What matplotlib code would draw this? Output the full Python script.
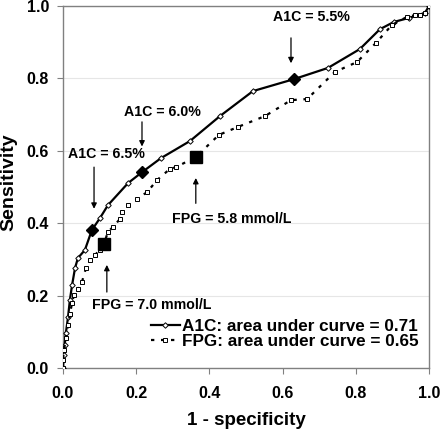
import matplotlib
matplotlib.use("Agg")
import matplotlib.pyplot as plt
from matplotlib.lines import Line2D

plt.rcParams['font.family'] = ['Liberation Sans', 'DejaVu Sans']
plt.rcParams['font.weight'] = 'bold'

# A1C ROC curve
a1c_fpr = [0.0, 0.003, 0.005, 0.008, 0.014, 0.019, 0.025, 0.033, 0.041, 0.060, 0.079,
           0.101, 0.123, 0.178, 0.216, 0.268, 0.347, 0.429, 0.519, 0.631, 0.724,
           0.811, 0.866, 0.904, 0.945, 0.989, 1.0]
a1c_tpr = [0.0, 0.036, 0.064, 0.097, 0.141, 0.188, 0.229, 0.276, 0.304, 0.326, 0.381,
           0.414, 0.450, 0.511, 0.541, 0.580, 0.627, 0.696, 0.765, 0.798, 0.829,
           0.881, 0.936, 0.956, 0.967, 0.981, 1.0]

# FPG ROC curve
fpg_fpr = [0.0, 0.0, 0.003, 0.008, 0.014, 0.019, 0.025, 0.030, 0.041, 0.052, 0.063,
           0.074, 0.087, 0.101, 0.112, 0.123, 0.137, 0.156, 0.161, 0.178, 0.202,
           0.230, 0.257, 0.292, 0.309, 0.363, 0.426, 0.478, 0.552, 0.623, 0.667,
           0.743, 0.803, 0.855, 0.899, 0.940, 0.962, 0.975, 0.989, 1.0]
fpg_tpr = [0.0, 0.022, 0.050, 0.083, 0.119, 0.149, 0.180, 0.202, 0.218, 0.238, 0.276,
           0.298, 0.312, 0.326, 0.343, 0.376, 0.390, 0.412, 0.431, 0.450, 0.467,
           0.486, 0.519, 0.550, 0.555, 0.583, 0.644, 0.666, 0.696, 0.740, 0.743,
           0.818, 0.845, 0.898, 0.948, 0.970, 0.975, 0.975, 0.981, 1.0]

# Highlighted cut-offs
a1c_cut_labels = ["A1C = 6.5%", "A1C = 6.0%", "A1C = 5.5%"]
a1c_cut_fpr = [0.079, 0.216, 0.631]
a1c_cut_tpr = [0.381, 0.541, 0.798]

fpg_cut_labels = ["FPG = 7.0 mmol/L", "FPG = 5.8 mmol/L"]
fpg_cut_fpr = [0.112, 0.363]
fpg_cut_tpr = [0.343, 0.583]

legend_labels = ["A1C: area under curve = 0.71", "FPG: area under curve = 0.65"]
ticks = [0.0, 0.2, 0.4, 0.6, 0.8, 1.0]
tick_labels = ["0.0", "0.2", "0.4", "0.6", "0.8", "1.0"]

fig = plt.figure(figsize=(4.4, 4.3), dpi=100)
ax = fig.add_axes([0.143, 0.144, 0.832, 0.842])

ax.plot(a1c_fpr, a1c_tpr, color='black', lw=1.6, marker='D', ms=2.8,
        mfc='white', mec='black', mew=0.7, zorder=3)
ax.plot(fpg_fpr, fpg_tpr, color='black', lw=1.6, ls=(0, (1.5, 3)), marker='s', ms=3.5,
        mfc='white', mec='black', mew=0.7, zorder=3)

ax.plot(a1c_cut_fpr, a1c_cut_tpr, ls='none', marker='D', ms=6.5, color='black', zorder=4)
ax.plot(fpg_cut_fpr, fpg_cut_tpr, ls='none', marker='s', ms=8.5, color='black', zorder=4)

ann_fs = 10.2
arrow = dict(arrowstyle='-|>', color='black', lw=0.9, mutation_scale=8, shrinkA=0, shrinkB=0)

# A1C annotations (arrow pointing down)
ax.annotate("", xy=(0.085, 0.44), xytext=(0.085, 0.555), arrowprops=arrow)
ax.text(0.120, 0.59, a1c_cut_labels[0], ha='center', va='center', fontsize=ann_fs, fontweight='bold')
ax.annotate("", xy=(0.216, 0.612), xytext=(0.216, 0.680), arrowprops=arrow)
ax.text(0.273, 0.707, a1c_cut_labels[1], ha='center', va='center', fontsize=ann_fs, fontweight='bold')
ax.annotate("", xy=(0.623, 0.842), xytext=(0.623, 0.912), arrowprops=arrow)
ax.text(0.678, 0.970, a1c_cut_labels[2], ha='center', va='center', fontsize=ann_fs, fontweight='bold')

# FPG annotations (arrow pointing up)
ax.annotate("", xy=(0.120, 0.285), xytext=(0.120, 0.210), arrowprops=arrow)
ax.text(0.243, 0.175, fpg_cut_labels[0], ha='center', va='center', fontsize=ann_fs, fontweight='bold')
ax.annotate("", xy=(0.363, 0.525), xytext=(0.363, 0.455), arrowprops=arrow)
ax.text(0.460, 0.413, fpg_cut_labels[1], ha='center', va='center', fontsize=ann_fs, fontweight='bold')

ax.set_xlim(0, 1)
ax.set_ylim(0, 1)
ax.set_xticks(ticks)
ax.set_yticks(ticks)
ax.set_xticklabels(tick_labels, fontsize=11.5, fontweight='bold')
ax.set_yticklabels(tick_labels, fontsize=11.5, fontweight='bold')
ax.tick_params(axis='both', length=4, color='#808080', width=0.8, pad=6)
ax.tick_params(axis='x', pad=9)
ax.grid(axis='y', color='#e6e6e6', lw=0.8)
ax.set_axisbelow(True)
for s in ax.spines.values():
    s.set_color('#808080')
    s.set_linewidth(1.0)

ax.set_xlabel("1 - specificity", fontsize=13.5, fontweight='bold', labelpad=8)
fig.text(8.5 / 440, 1 - 182 / 430, "Sensitivity", rotation=90, ha='center', va='center',
         fontsize=14, fontweight='bold')

handles = [
    Line2D([0], [0], color='black', lw=1.6, marker='D', ms=2.8, mfc='white', mec='black', mew=0.7),
    Line2D([0], [0], color='black', lw=1.6, ls=(0, (1.5, 3)), marker='s', ms=3.5,
           mfc='white', mec='black', mew=0.7),
]
ax.legend(handles, legend_labels, loc='lower right', bbox_to_anchor=(1.0, 0.024),
          frameon=False, prop={'weight': 'bold', 'size': 12.3}, handlelength=1.7,
          handletextpad=0.15, labelspacing=0.0, borderaxespad=0.2)

fig.savefig("out.png", dpi=100)
